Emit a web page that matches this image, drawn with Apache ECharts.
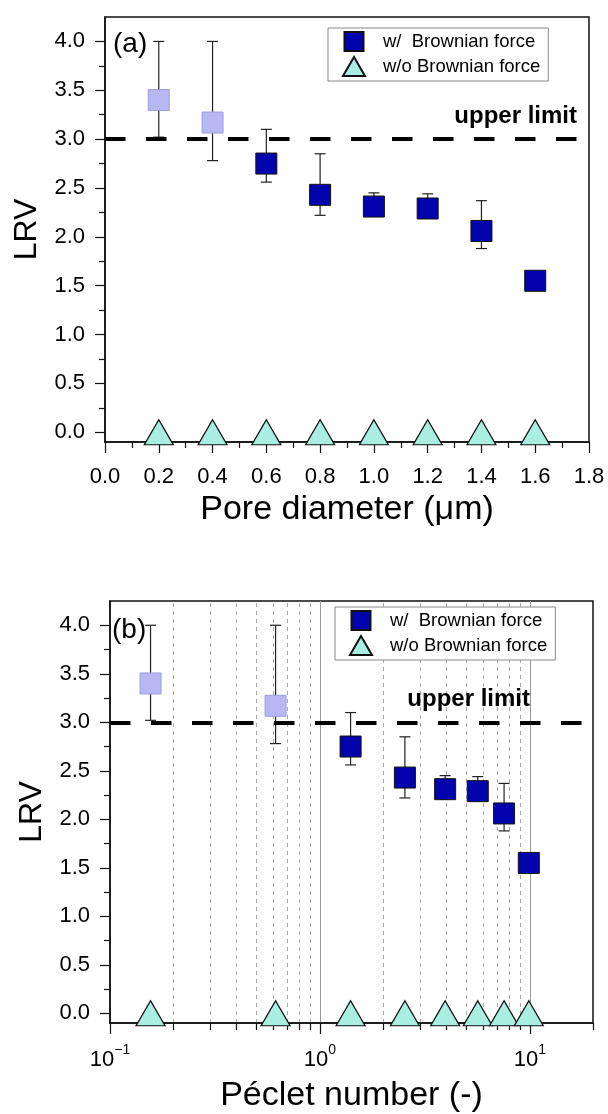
<!DOCTYPE html>
<html><head><meta charset="utf-8">
<script src="https://cdn.jsdelivr.net/npm/echarts@6/dist/echarts.min.js"></script>
<style>html,body{margin:0;padding:0;background:#fff}#c{width:608px;height:1114px}</style>
</head><body><div id="c"></div>
<script>
// ---------- data ----------
const poreDiameter = [0.2, 0.4, 0.6, 0.8, 1.0, 1.2, 1.4, 1.6];
const pecletNumber = [0.156, 0.615, 1.40, 2.54, 3.95, 5.65, 7.54, 9.89];
const lrvWith      = [3.40, 3.17, 2.75, 2.43, 2.31, 2.29, 2.06, 1.55];
const lrvWithLow   = [3.02, 2.78, 2.56, 2.22, 2.21, 2.19, 1.88, 1.51];
const lrvWithHigh  = [4.00, 4.00, 3.10, 2.85, 2.45, 2.44, 2.37, 1.60];
const lrvWithout   = [0, 0, 0, 0, 0, 0, 0, 0];
const aboveLimit   = [true, true, false, false, false, false, false, false];
const upperLimit = 3.0;
const yMajorTicks = [0, 0.5, 1.0, 1.5, 2.0, 2.5, 3.0, 3.5, 4.0];
const yMinorTicks = [0.25, 0.75, 1.25, 1.75, 2.25, 2.75, 3.25, 3.75];
const pecletMajorTicks = [0.1, 1, 10];
const pecletMinorTicks = [0.2, 0.3, 0.4, 0.5, 0.6, 0.7, 0.8, 0.9, 2, 3, 4, 5, 6, 7, 8, 9, 20];
const pecletGridMinor = [0.2, 0.3, 0.4, 0.5, 0.6, 0.7, 0.8, 0.9, 2, 3, 4, 5, 6, 7, 8, 9];
const pecletGridMajor = [1, 10];
const nameWith = 'w/  Brownian force';
const nameWithout = 'w/o Brownian force';

// ---------- styles ----------
const FONT = '"Liberation Sans", Arial, sans-serif';
const BLACK = '#111';
const darkSq = { color: '#0303ae', borderColor: '#111', borderWidth: 1, opacity: 1 };
const lightSq = { color: '#b7b7f4', borderColor: '#9d9dde', borderWidth: 1, opacity: 1 };
const triStyle = { color: '#a8eee1', borderColor: '#111', borderWidth: 1.2, opacity: 1 };

function errorBarItem(params, api) {
  const x = api.value(0), lo = api.value(1), hi = api.value(2);
  const a = api.coord([x, hi]), b = api.coord([x, lo]);
  const hw = 5.5;
  const st = { stroke: '#222', lineWidth: 1.2 };
  return { type: 'group', children: [
    { type: 'line', shape: { x1: a[0], y1: a[1], x2: b[0], y2: b[1] }, style: st },
    { type: 'line', shape: { x1: a[0] - hw, y1: a[1], x2: a[0] + hw, y2: a[1] }, style: st },
    { type: 'line', shape: { x1: b[0] - hw, y1: b[1], x2: b[0] + hw, y2: b[1] }, style: st }
  ]};
}

function yAxes(grid) {
  return [
    { gridIndex: grid, type: 'value', min: -0.1, max: 4.25, position: 'left',
      name: 'LRV', nameLocation: 'middle', nameGap: 58,
      nameTextStyle: { fontSize: 32, color: '#000', fontFamily: FONT },
      axisLine: { show: true, onZero: false, lineStyle: { color: BLACK, width: 1.5 } },
      axisTick: { show: true, length: 10, customValues: yMajorTicks, lineStyle: { color: BLACK, width: 1.2 } },
      axisLabel: { show: true, customValues: yMajorTicks, margin: 20, fontSize: 22, color: '#000', fontFamily: FONT,
                   formatter: v => Number(v).toFixed(1) },
      splitLine: { show: false } },
    { gridIndex: grid, type: 'value', min: -0.1, max: 4.25, position: 'left',
      axisLine: { show: false, onZero: false },
      axisTick: { show: true, length: 6, customValues: yMinorTicks, lineStyle: { color: BLACK, width: 1.2 } },
      axisLabel: { show: false }, splitLine: { show: false } }
  ];
}

function legendFor(left, top) {
  return { orient: 'vertical', left: left, top: top, itemWidth: 22, itemHeight: 19, itemGap: 4,
    padding: [3, 8, 4, 14], borderColor: '#888', borderWidth: 1, backgroundColor: '#fff',
    textStyle: { fontSize: 18.5, color: '#000', fontFamily: FONT, padding: [0, 0, 0, 13] },
    data: [ { name: nameWith, icon: 'path://M0,0H10V10H0Z' }, { name: nameWithout, icon: 'triangle' } ] };
}

function limitLine(dx) {
  return { silent: true, symbol: 'none', z: 5, animation: false,
    lineStyle: { color: '#000', width: 4, type: [20.5, 20.5] },
    label: { show: true, position: 'insideEndTop', distance: [dx, 11], formatter: 'upper limit',
             fontSize: 24, fontWeight: 'bold', color: '#000', fontFamily: FONT },
    data: [ { yAxis: upperLimit } ] };
}

const gridLineData = pecletGridMinor.map(v => ({ xAxis: v, lineStyle: { color: '#aaa', width: 1, type: [4, 4] } }))
  .concat(pecletGridMajor.map(v => ({ xAxis: v, lineStyle: { color: '#999', width: 1, type: 'solid' } })));

const errTop = poreDiameter.map((x, i) => [x, lrvWithLow[i], lrvWithHigh[i]]);
const errBot = pecletNumber.map((x, i) => [x, lrvWithLow[i], lrvWithHigh[i]]);
const sqTop = poreDiameter.map((x, i) => ({ value: [x, lrvWith[i]], itemStyle: aboveLimit[i] ? lightSq : darkSq }));
const sqBot = pecletNumber.map((x, i) => ({ value: [x, lrvWith[i]], itemStyle: aboveLimit[i] ? lightSq : darkSq }));
const triTop = poreDiameter.map((x, i) => [x, lrvWithout[i]]);
const triBot = pecletNumber.map((x, i) => [x, lrvWithout[i]]);

const supRich = {
  b: { fontSize: 22, color: '#000', fontFamily: FONT, lineHeight: 28, verticalAlign: 'bottom' },
  s: { fontSize: 14, color: '#000', fontFamily: FONT, lineHeight: 28, verticalAlign: 'top' }
};

const option = {
  animation: false,
  backgroundColor: '#fff',
  textStyle: { fontFamily: FONT },
  title: [
    { text: '(a)', left: 113, top: 30, padding: 0, textStyle: { fontSize: 28, fontWeight: 'normal', color: '#000', fontFamily: FONT } },
    { text: '(b)', left: 112, top: 616, padding: 0, textStyle: { fontSize: 28, fontWeight: 'normal', color: '#000', fontFamily: FONT } }
  ],
  legend: [ legendFor(328, 28), legendFor(335, 607) ],
  grid: [
    { left: 105, top: 17, width: 484, height: 425, show: true, borderColor: BLACK, borderWidth: 1.5, backgroundColor: 'transparent' },
    { left: 110, top: 601, width: 483, height: 425, show: true, borderColor: BLACK, borderWidth: 1.5, backgroundColor: 'transparent' }
  ],
  xAxis: [
    { gridIndex: 0, type: 'value', min: 0, max: 1.8, interval: 0.2, position: 'bottom',
      name: 'Pore diameter (μm)', nameLocation: 'middle', nameGap: 51,
      nameTextStyle: { fontSize: 34, color: '#000', fontFamily: FONT },
      axisLine: { onZero: false, lineStyle: { color: BLACK, width: 1.5 } },
      axisTick: { length: 11, lineStyle: { color: BLACK, width: 1.2 } },
      minorTick: { show: true, splitNumber: 2, length: 6, lineStyle: { color: BLACK, width: 1.2 } },
      axisLabel: { margin: 24, fontSize: 22, color: '#000', fontFamily: FONT, formatter: v => Number(v).toFixed(1) },
      splitLine: { show: false } },
    { gridIndex: 1, type: 'log', logBase: 10, min: 0.1, max: 20, position: 'bottom',
      name: 'Péclet number (-)', nameLocation: 'middle', nameGap: 56,
      nameTextStyle: { fontSize: 34, color: '#000', fontFamily: FONT },
      axisLine: { onZero: false, lineStyle: { color: BLACK, width: 1.5 } },
      axisTick: { length: 11, customValues: pecletMajorTicks, lineStyle: { color: BLACK, width: 1.2 } },
      axisLabel: { customValues: pecletMajorTicks, margin: 20, rich: supRich,
        formatter: v => { const e = Math.round(Math.log10(v)); return '{b|10}{s|' + (e < 0 ? '\u2212' + (-e) : e) + '}'; } },
      splitLine: { show: false } },
    { gridIndex: 1, type: 'log', logBase: 10, min: 0.1, max: 20, position: 'bottom',
      axisLine: { show: false, onZero: false },
      axisTick: { length: 7, customValues: pecletMinorTicks, lineStyle: { color: BLACK, width: 1.2 } },
      axisLabel: { show: false }, splitLine: { show: false } }
  ],
  yAxis: yAxes(0).concat(yAxes(1)),
  series: [
    { type: 'custom', xAxisIndex: 0, yAxisIndex: 0, renderItem: errorBarItem, data: errTop, z: 1,
      encode: { x: 0, y: [1, 2] }, clip: false, silent: true },
    { type: 'scatter', name: nameWith, xAxisIndex: 0, yAxisIndex: 0, symbol: 'rect', symbolSize: 21,
      itemStyle: darkSq, data: sqTop, z: 3, clip: false, markLine: limitLine(12) },
    { type: 'scatter', name: nameWithout, xAxisIndex: 0, yAxisIndex: 0, symbol: 'triangle', symbolSize: [29, 25],
      itemStyle: triStyle, data: triTop, z: 3, clip: false },

    { type: 'custom', xAxisIndex: 1, yAxisIndex: 2, renderItem: errorBarItem, data: errBot, z: 1,
      encode: { x: 0, y: [1, 2] }, clip: false, silent: true },
    { type: 'scatter', name: nameWith, xAxisIndex: 1, yAxisIndex: 2, symbol: 'rect', symbolSize: 21,
      itemStyle: darkSq, data: sqBot, z: 3, clip: false, markLine: limitLine(63) },
    { type: 'scatter', name: nameWithout, xAxisIndex: 1, yAxisIndex: 2, symbol: 'triangle', symbolSize: [29, 25],
      itemStyle: triStyle, data: triBot, z: 3, clip: false,
      markLine: { silent: true, symbol: 'none', z: 0, animation: false, label: { show: false }, data: gridLineData } }
  ]
};
const chart = echarts.init(document.getElementById('c'), null, { renderer: 'canvas' });
chart.setOption(option);
</script></body></html>
